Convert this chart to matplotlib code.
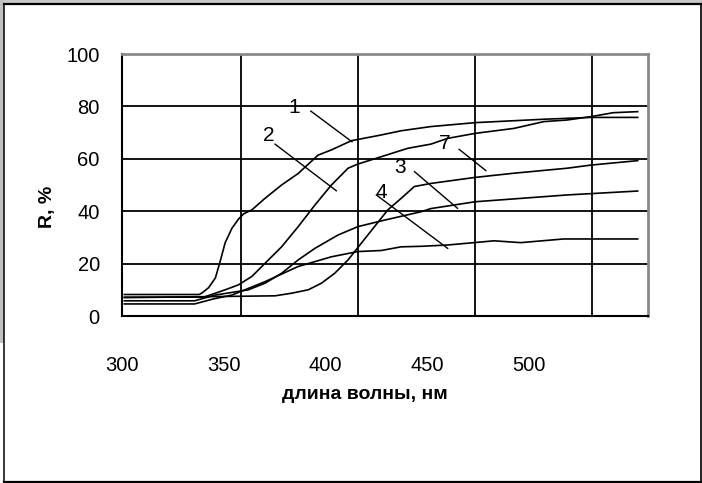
import matplotlib
matplotlib.use('Agg')
import matplotlib.pyplot as plt
from matplotlib.lines import Line2D
from matplotlib.patches import Rectangle

plt.rcParams['font.family'] = ['Liberation Sans', 'DejaVu Sans']

# reflectance curves R(%) vs wavelength (nm)
wl_1 = [300, 332, 333.2, 336, 338.9, 341, 343.1, 346, 348.8, 351, 354.5, 360.1, 367.2,
        374.3, 382.8, 388.5, 397, 409.8, 418.3, 431, 449.9, 479.3, 499.4, 519.4]
r_1 = [8.2, 8.2, 8.8, 10.8, 14.5, 21.0, 28.0, 33.5, 37.0, 39.0, 40.5, 44.9, 50.0,
       54.4, 61.4, 63.4, 66.9, 69.1, 70.7, 72.3, 73.8, 75.1, 75.8, 75.8]

wl_2 = [300, 334, 343.1, 348.8, 354.5, 360.1, 367.2, 374.3, 381.4, 388.5, 395.6, 399.8,
        409.8, 421.1, 431, 438.2, 449.9, 466.5, 479.3, 489.2, 499.4, 509, 519.4]
r_2 = [7.2, 7.2, 10.0, 11.9, 15.1, 20.1, 26.4, 34.1, 42.3, 50.0, 56.4, 58.0,
       60.8, 64.0, 65.6, 67.8, 69.7, 71.6, 74.2, 74.8, 76.1, 77.6, 78.0]

wl_7 = [300, 364.4, 371.5, 378.6, 384.2, 389.9, 395.6, 401.2, 406.9, 412.6, 418.3,
        423.9, 431, 449.9, 466.5, 489.2, 499.4, 519.4]
r_7 = [7.0, 7.7, 8.7, 10.0, 12.5, 16.3, 21.4, 27.7, 34.1, 40.5, 44.9,
       49.4, 50.6, 52.9, 54.5, 56.4, 57.6, 59.3]

wl_3 = [300, 330, 338.9, 353, 360.1, 367.2, 374.3, 381.4, 391.3, 399.8, 409.8,
        426.8, 431, 449.9, 489.2, 519.4]
r_3 = [5.8, 5.8, 8.0, 10.0, 12.5, 16.3, 21.4, 25.8, 30.9, 34.1, 36.3,
       39.8, 41.0, 43.6, 46.2, 47.7]

wl_4 = [300, 330, 338, 346, 360.1, 374.3, 388.5, 399.8, 409.8, 418.3, 426.8,
        438.2, 458, 469.4, 487.7, 519.4]
r_4 = [4.6, 4.6, 6.5, 8.0, 13.1, 18.9, 22.6, 24.6, 25.0, 26.4, 26.6,
       27.1, 28.7, 28.0, 29.4, 29.4]

curve_labels = ['1', '2', '7', '3', '4']
x_ticks = [300, 350, 400, 450, 500]
y_ticks = [0, 20, 40, 60, 80, 100]

fig = plt.figure(figsize=(7.02, 4.83), dpi=100)
ax = fig.add_axes([122/702, 1 - 316/483, 526/702, 262/483])

for wl, r in [(wl_1, r_1), (wl_2, r_2), (wl_7, r_7), (wl_3, r_3), (wl_4, r_4)]:
    ax.plot(wl, r, color='black', lw=1.2, zorder=3)

# label text and leader line for each curve
label_xy = [(372.6, 79.7), (361.6, 69.0), (436.7, 65.7), (417.9, 56.8), (409.8, 47.3)]
leader = [((379.7, 78.2), (397.3, 66.5)),
          ((364.4, 65.6), (390.6, 47.8)),
          ((443.1, 63.6), (454.5, 55.5)),
          ((424.0, 55.1), (442.4, 41.1)),
          ((407.7, 46.2), (438.2, 25.8))]
for lab, (tx, ty), ((x0, y0), (x1, y1)) in zip(curve_labels, label_xy, leader):
    ax.text(tx, ty, lab, fontsize=15, ha='center', va='center', zorder=4)
    ax.plot([x0, x1], [y0, y1], color='black', lw=1.0, zorder=4)

ax.set_xlim(300, 523.8)
ax.set_ylim(0, 100)
ax.set_xticks(x_ticks[1:])
ax.set_xticklabels([])
ax.set_xticks([299, 342.5, 386, 429.5, 473], minor=True)
ax.set_xticklabels([str(v) for v in x_ticks], minor=True)
ax.set_yticks(y_ticks)
ax.set_yticklabels([str(v) for v in y_ticks])
ax.tick_params(which='both', length=0, labelsize=14.5)
ax.tick_params(axis='x', which='minor', pad=29)
ax.tick_params(axis='y', pad=16)
ax.grid(True, which='major', color='black', lw=1.3)
ax.set_axisbelow(True)

for s in ['left', 'bottom']:
    ax.spines[s].set_color('black')
    ax.spines[s].set_linewidth(1.5)
for s in ['top', 'right']:
    ax.spines[s].set_color('#8a8a8a')
    ax.spines[s].set_linewidth(2.0)

ax.set_xlabel('длина волны, нм', fontsize=14, fontweight='bold')
ax.xaxis.set_label_coords(0.462, -0.30)
ax.xaxis.label.set_va('center')
ax.set_ylabel('R, %', fontsize=14, fontweight='bold')
ax.yaxis.set_label_coords(-0.1255, 0.416)

# outer frame with grey edge
fig.add_artist(Rectangle((0, 1 - 3/483), 1, 3/483, transform=fig.transFigure,
                         color='#c8c8c8', lw=0))
fig.add_artist(Rectangle((0, 1 - 343/483), 3.5/702, 343/483, transform=fig.transFigure,
                         color='#c0c0c0', lw=0))
fig.add_artist(Line2D([4/702, 1], [1 - 3.8/483, 1 - 3.8/483], transform=fig.transFigure,
                      color='black', lw=1.6))
fig.add_artist(Line2D([4/702, 4/702], [1 - 3.8/483, 1.5/483], transform=fig.transFigure,
                      color='black', lw=1.1))
fig.add_artist(Line2D([4/702, 1], [1.5/483, 1.5/483], transform=fig.transFigure,
                      color='black', lw=1.6))
fig.add_artist(Line2D([701/702, 701/702], [1.5/483, 1 - 3.8/483], transform=fig.transFigure,
                      color='black', lw=1.2))

fig.savefig('out.png', dpi=100)
